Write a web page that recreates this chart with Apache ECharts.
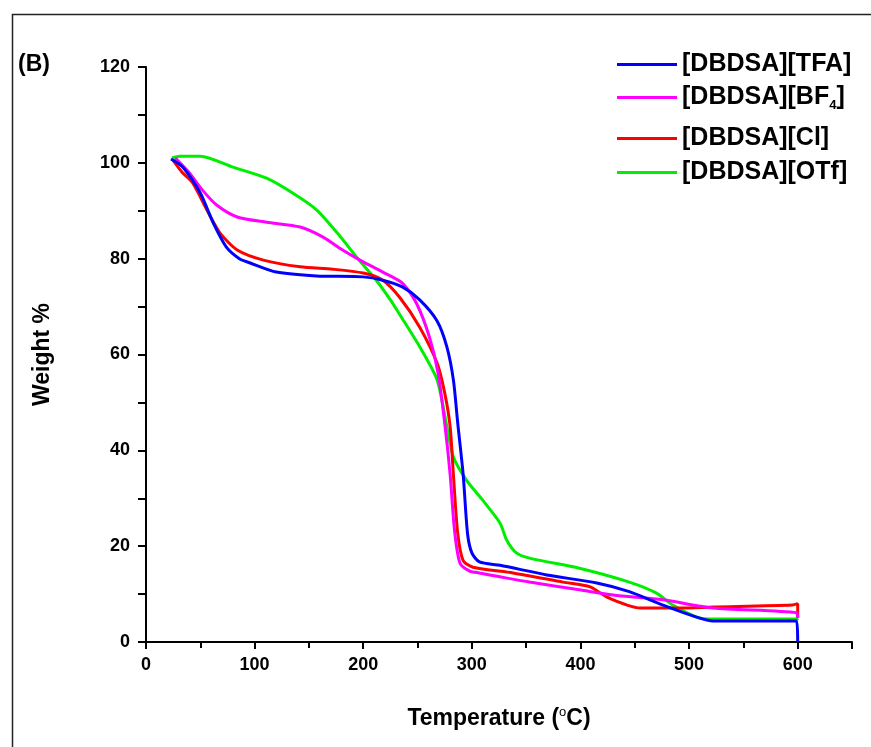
<!DOCTYPE html>
<html>
<head>
<meta charset="utf-8">
<script src="https://cdn.jsdelivr.net/npm/echarts@6/dist/echarts.min.js"></script>
<style>html,body{margin:0;padding:0;background:#fff}#c{width:871px;height:747px}</style>
</head>
<body>
<div id="c"></div>
<script>
// ---- data ----
const xTicks = [0, 100, 200, 300, 400, 500, 600];
const yTicks = [0, 20, 40, 60, 80, 100, 120];

const tfaT = [23, 34, 50, 62, 74, 86, 96, 120, 157, 200, 218, 236, 252, 268, 277, 283, 287, 292, 296, 300, 307, 326, 369, 415, 445, 476, 507, 522, 599, 600];
const tfaW = [100.8, 99.1, 93.7, 87.4, 82.4, 80, 79.1, 77.2, 76.4, 76.2, 75.5, 74.1, 71.4, 67, 61.6, 54.7, 45.7, 35, 22.7, 18.6, 16.7, 16, 14, 12.3, 10.5, 7.7, 5.2, 4.4, 4.4, 0];

const bf4T = [27, 40, 52, 65, 84, 111, 142, 163, 181, 197, 218, 236, 249, 261, 269, 275, 280, 284, 289, 298, 307, 326, 353, 399, 430, 476, 522, 599, 600];
const bf4W = [101, 97.9, 94.3, 91.2, 88.7, 87.6, 86.6, 84.5, 81.8, 79.7, 77.2, 74.9, 70.7, 63.6, 56, 45.7, 35, 23.4, 16.5, 14.8, 14.4, 13.6, 12.5, 10.9, 9.8, 8.8, 7.1, 6.1, 5];

const clT = [25, 33, 43, 56, 68, 84, 108, 142, 172, 200, 218, 234, 252, 268, 275, 280, 283, 287, 292, 301, 338, 384, 409, 424, 443, 455, 491, 522, 595, 600, 600];
const clW = [100.5, 98.1, 95.8, 90.2, 85.4, 81.8, 79.7, 78.3, 77.8, 77, 75.5, 71.8, 65.7, 58.2, 52, 45, 35, 22.7, 17, 15.6, 14.4, 12.5, 11.5, 9.4, 7.7, 7.1, 7.1, 7.3, 7.7, 8.0, 5];

const otfT = [24, 31, 50, 80, 111, 135, 157, 176, 194, 212, 225, 234, 252, 268, 277, 283, 295, 310, 326, 332, 341, 353, 399, 445, 470, 485, 507, 522, 599, 600];
const otfW = [101, 101.4, 101.4, 99.1, 96.8, 93.7, 90.2, 85.4, 80.3, 75.5, 71.4, 68.2, 61.6, 54.7, 45, 38.6, 33.8, 29.6, 24.8, 21.3, 18.6, 17.5, 15.4, 12.5, 10.2, 7.7, 5.2, 4.8, 4.8, 4.5];

const names = ['[DBDSA][TFA]', '[DBDSA][BF4]', '[DBDSA][Cl]', '[DBDSA][OTf]'];
const colors = ['#0000ff', '#ff00ff', '#ff0000', '#00ee00'];

function pairs(t, w) { return t.map((v, i) => [v, w[i]]); }

const FONT = '"Liberation Sans", Arial, sans-serif';
const chart = echarts.init(document.getElementById('c'), null, {renderer: 'canvas'});

function mkSeries(name, t, w, color, z) {
  return {
    name: name, type: 'line', data: pairs(t, w), showSymbol: false, smooth: 0.25,
    lineStyle: {color: color, width: 3}, itemStyle: {color: color}, z: z, animation: false
  };
}

const legendTops = [46, 79, 120, 154];
const legends = names.map((n, i) => ({
  data: [n], left: 612, top: legendTops[i], icon: 'rect', itemWidth: 60, itemHeight: 3,
  selectedMode: false,
  formatter: n === '[DBDSA][BF4]' ? '[DBDSA][BF{sub|4}]' : n,
  textStyle: {
    fontFamily: FONT, fontWeight: 'bold', fontSize: 25, color: '#000', lineHeight: 27,
    rich: {sub: {fontFamily: FONT, fontWeight: 'bold', fontSize: 13, color: '#000', padding: [16, 0, 0, 0]}}
  }
}));

chart.setOption({
  backgroundColor: '#fff',
  animation: false,
  graphic: [
    {type: 'rect', left: 10, top: 12, shape: {width: 900, height: 800},
     style: {fill: 'none', stroke: '#222', lineWidth: 1.5}},
    {type: 'text', left: 18, top: 53, style: {text: '(B)', font: 'bold 23px ' + FONT, fill: '#000'}}
  ],
  legend: legends,
  grid: {left: 146, right: 19, top: 67, bottom: 105},
  xAxis: {
    type: 'value', min: 0, max: 650, interval: 100,
    name: '{a|Temperature (}{s|o}{a|C)}', nameLocation: 'middle', nameGap: 64,
    nameTextStyle: {rich: {
      a: {fontFamily: FONT, fontWeight: 'bold', fontSize: 23, color: '#000'},
      s: {fontFamily: FONT, fontSize: 13, color: '#000', padding: [0, 0, 12, 0]}
    }},
    axisLine: {show: true, lineStyle: {color: '#000', width: 2}},
    axisTick: {show: true, inside: false, length: 7, lineStyle: {color: '#000', width: 2}},
    minorTick: {show: true, splitNumber: 2, length: 6, lineStyle: {color: '#000', width: 2}},
    splitLine: {show: false},
    axisLabel: {
      margin: 14, fontFamily: FONT, fontWeight: 'bold', fontSize: 18, color: '#000',
      formatter: v => (xTicks.indexOf(v) >= 0 ? String(v) : '')
    }
  },
  yAxis: {
    type: 'value', min: 0, max: 120, interval: 20,
    name: 'Weight %', nameLocation: 'middle', nameGap: 92, nameRotate: 90,
    nameTextStyle: {fontFamily: FONT, fontWeight: 'bold', fontSize: 23, color: '#000'},
    axisLine: {show: true, lineStyle: {color: '#000', width: 2}},
    axisTick: {show: true, inside: false, length: 8, lineStyle: {color: '#000', width: 2}},
    minorTick: {show: true, splitNumber: 2, length: 8, lineStyle: {color: '#000', width: 2}},
    splitLine: {show: false},
    axisLabel: {
      margin: 16, fontFamily: FONT, fontWeight: 'bold', fontSize: 18, color: '#000',
      formatter: v => (yTicks.indexOf(v) >= 0 ? String(v) : '')
    }
  },
  series: [
    mkSeries(names[3], otfT, otfW, colors[3], 2),
    mkSeries(names[2], clT, clW, colors[2], 3),
    mkSeries(names[1], bf4T, bf4W, colors[1], 4),
    mkSeries(names[0], tfaT, tfaW, colors[0], 5)
  ]
});
</script>
</body>
</html>
